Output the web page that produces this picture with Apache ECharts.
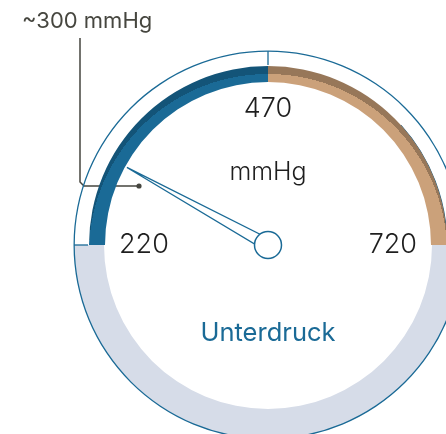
<!DOCTYPE html>
<html>
<head>
<meta charset="utf-8">
<script src="https://cdn.jsdelivr.net/npm/echarts@6/dist/echarts.min.js"></script>
<style>
  html, body { margin: 0; padding: 0; background: #fff; }
  #chart { width: 446px; height: 434px; }
</style>
</head>
<body>
<div id="chart"></div>
<script>
// gauge scale and reading
const scaleMin = 220
const scaleMax = 720
const scaleSplits = 2
const reading = [{ value: 300, name: 'mmHg' }]
const lowerRing = [{ value: 0, name: 'Unterdruck' }]
const calloutText = '~300 mmHg'

const cx = 268, cy = 245
const font = 'Inter, "Noto Sans", sans-serif'
const blue = '#1a6a96'

// darker outer rim on the band, thicker at the top
const rim = (light, dark) => new echarts.graphic.RadialGradient(cx, cy + 8, 200, [
    { offset: 0, color: light },
    { offset: 0.895, color: light },
    { offset: 0.895, color: dark },
    { offset: 1, color: dark }
], true)

const plain = {
    center: [cx, cy],
    pointer: { show: false },
    axisTick: { show: false },
    splitLine: { show: false },
    axisLabel: { show: false },
    detail: { show: false },
    title: { show: false },
    silent: true
}

let Charts = echarts.init(document.getElementById('chart'))
Charts.setOption({
    animation: false,
    graphic: [
        {
            type: 'text',
            left: 22, top: 10,
            style: { text: calloutText, fontSize: 22, fontFamily: font, fill: '#46463f' }
        },
        {
            type: 'polyline',
            shape: { points: [[80, 38], [80, 182], [84, 186], [139, 186]] },
            style: { stroke: '#46463f', lineWidth: 1.5, fill: null }
        },
        {
            type: 'circle',
            shape: { cx: 139, cy: 186, r: 2.6 },
            style: { fill: '#46463f' }
        }
    ],
    series: [
        // lower light ring
        Object.assign({}, plain, {
            type: 'gauge',
            radius: 194,
            startAngle: 0,
            endAngle: -180,
            axisLine: { lineStyle: { width: 30, color: [[1, '#d6dce8']] } },
            title: {
                show: true,
                offsetCenter: [0, 88],
                fontSize: 25.5,
                fontFamily: font,
                color: blue
            },
            data: lowerRing
        }),
        // thin outer circle
        Object.assign({}, plain, {
            type: 'gauge',
            radius: 194.5,
            startAngle: 90,
            endAngle: -269.99,
            axisLine: { lineStyle: { width: 1.3, color: [[1, blue]] } },
            data: []
        }),
        // mid tick on the outer circle
        Object.assign({}, plain, {
            type: 'gauge',
            radius: 194,
            startAngle: 180,
            endAngle: 0,
            min: scaleMin,
            max: scaleMax,
            splitNumber: scaleSplits,
            axisLine: { show: false, lineStyle: { width: 0 } },
            splitLine: { show: true, length: 14, distance: 0, lineStyle: { color: blue, width: 1.3 } },
            data: []
        }),
        // thin dark edge on the tan band
        Object.assign({}, plain, {
            type: 'gauge',
            radius: 179.5,
            startAngle: 42,
            endAngle: 0,
            axisLine: { lineStyle: { width: 1, color: [[1, '#17587f']] } },
            data: []
        }),
        // main band with pointer
        {
            type: 'gauge',
            center: [cx, cy],
            radius: 179,
            startAngle: 180,
            endAngle: 0,
            min: scaleMin,
            max: scaleMax,
            splitNumber: scaleSplits,
            axisLine: {
                lineStyle: {
                    width: 16,
                    color: [
                        [0.5, rim('#1a6a96', '#135478')],
                        [1, rim('#cba17a', '#977759')]
                    ]
                }
            },
            axisTick: { show: false },
            splitLine: { show: false },
            axisLabel: {
                distance: 10,
                fontSize: 27,
                lineHeight: 26,
                fontFamily: font,
                fontWeight: 300,
                color: '#1e1e1e',
                formatter: v => String(Math.round(v))
            },
            pointer: {
                icon: 'path://M5,0 L10,100 L0,100 Z',
                length: 161,
                width: 12,
                itemStyle: { color: '#fff', borderColor: blue, borderWidth: 1.3 }
            },
            anchor: {
                show: true,
                showAbove: true,
                size: 27,
                itemStyle: { color: '#fff', borderColor: blue, borderWidth: 1.5 }
            },
            title: {
                offsetCenter: [0, -73],
                fontSize: 25,
                fontFamily: font,
                fontWeight: 300,
                color: '#1e1e1e'
            },
            detail: { show: false },
            data: reading
        }
    ]
})
</script>
</body>
</html>
